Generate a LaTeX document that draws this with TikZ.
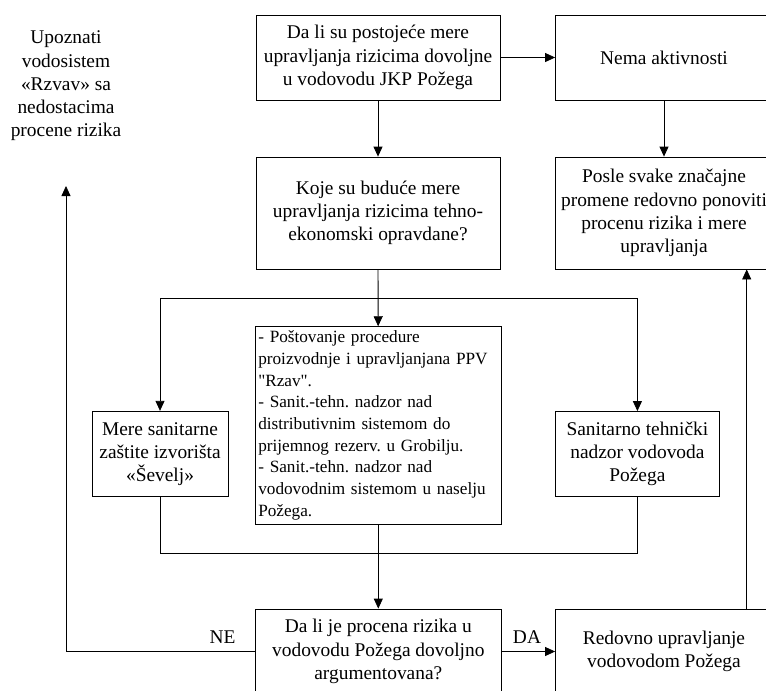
\documentclass[tikz,border=0pt]{standalone}
\usepackage{fontspec}
\setmainfont{Liberation Serif}
\usetikzlibrary{arrows.meta}
\frenchspacing
\begin{document}
\begin{tikzpicture}[x=1pt,y=-1pt,
  ln/.style={line width=0.8pt},
  box/.style={draw, ln, align=center, inner sep=2pt, font=\fontsize{19.4}{23.3}\selectfont},
  lbl/.style={font=\fontsize{19.4}{23.3}\selectfont, inner sep=0pt},
  arr/.style={ln, -{Triangle[length=10pt,width=9pt]}}]
\useasboundingbox (0,0) rectangle (766,691);
\clip (0,0) rectangle (766,691);

\node[box, minimum width=244pt, minimum height=85pt] (top) at (378,57.5)
  {Da li su postojeće mere\\upravljanja rizicima dovoljne\\u vodovodu JKP Požega};
\node[box, minimum width=217pt, minimum height=85pt] (nema) at (664,57.5)
  {Nema aktivnosti};
\node[box, minimum width=244pt, minimum height=112pt] (koje) at (378,213)
  {Koje su buduće mere\\upravljanja rizicima tehno-\\ekonomski opravdane?};
\node[box, minimum width=217pt, minimum height=112pt] (posle) at (664,213)
  {Posle svake značajne\\promene redovno ponoviti\\procenu rizika i mere\\upravljanja};
\node[draw, ln, minimum width=245.5pt, minimum height=197.3pt, text width=240pt,
  inner xsep=2.75pt, inner ysep=1pt, align=left,
  font=\fontsize{17.2}{21.7}\selectfont] (mid) at (378.3,425.3)
  {- Poštovanje procedure\\proizvodnje i upravljanjana PPV\\\textquotedbl Rzav\textquotedbl.\\- Sanit.-tehn. nadzor nad\\distributivnim sistemom do\\prijemnog rezerv. u Grobilju.\\- Sanit.-tehn. nadzor nad\\vodovodnim sistemom u naselju\\Požega.};
\node[box, minimum width=136pt, minimum height=85.5pt] (mere) at (160,454)
  {Mere sanitarne\\zaštite izvorišta\\«Ševelj»};
\node[box, minimum width=163.3pt, minimum height=85pt] (san) at (637.4,454)
  {Sanitarno tehnički\\nadzor vodovoda\\Požega};
\node[box, minimum width=245.5pt, minimum height=85pt] (da) at (378.3,651.5)
  {Da li je procena rizika u\\vodovodu Požega dovoljno\\argumentovana?};
\node[box, minimum width=217pt, minimum height=85pt] (red) at (664,651.5)
  {Redovno upravljanje\\vodovodom Požega};
\node[lbl, align=center] (upz) at (66,86)
  {Upoznati\\vodosistem\\«Rzvav» sa\\nedostacima\\procene rizika};
\node[lbl] (ne) at (222.5,637) {NE};
\node[lbl] (dalbl) at (527,637) {DA};

\coordinate (bl) at (160,298);
\coordinate (br) at (637.4,298);
\coordinate (jl) at (160,553);
\coordinate (jr) at (637.4,553);
\coordinate (upzend) at (66,186);

\draw[arr] (top) -- (nema);
\draw[arr] (top) -- (koje);
\draw[arr] (nema) -- (posle);
\draw[arr] (koje) -- (mid);
\draw[ln] (bl) -- (br);
\draw[arr] (bl) -- (mere);
\draw[arr] (br) -- (san);
\draw[ln] (mere) -- (jl) -- (jr) -- (san);
\draw[arr] (mid) -- (da);
\draw[arr] (da) -- (red);
\draw[arr] (da.west) -| (upzend);
\draw[arr] ([xshift=82.7pt]red.north) -- ([xshift=82.7pt]posle.south);
\end{tikzpicture}
\end{document}
